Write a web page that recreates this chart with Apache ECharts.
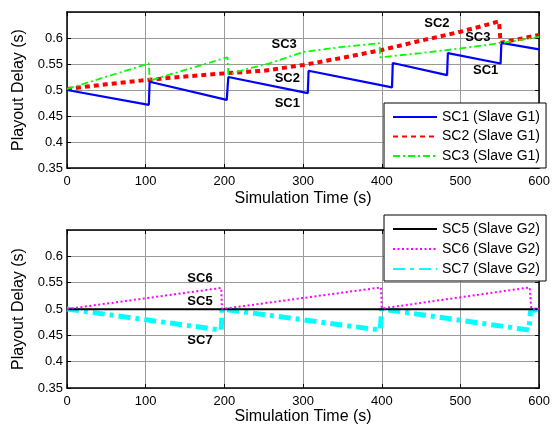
<!DOCTYPE html>
<html><head><meta charset="utf-8">
<script src="https://cdn.jsdelivr.net/npm/echarts@6/dist/echarts.min.js"></script>
<style>html,body{margin:0;padding:0;background:#fff}#c{width:553px;height:433px}</style>
</head><body><div id="c"></div>
<script>
// ---- data ----
const sc1Time  = [0, 104, 105, 203, 205, 306, 307, 413, 414, 483, 484, 551, 552, 600];
const sc1Delay = [0.500, 0.4715, 0.5158, 0.481, 0.525, 0.494, 0.537, 0.505, 0.552, 0.5285, 0.571, 0.551, 0.5905, 0.578];

const sc2Time  = [0, 50, 100, 150, 200, 250, 300, 350, 400, 450, 500, 530, 549, 551, 575, 600];
const sc2Delay = [0.502, 0.511, 0.519, 0.526, 0.532, 0.537, 0.548, 0.562, 0.577, 0.595, 0.612, 0.624, 0.632, 0.591, 0.598, 0.606];

const sc3Time  = [0, 104, 105, 204, 205, 230, 255, 300, 350, 397, 398, 450, 500, 550, 600];
const sc3Delay = [0.502, 0.551, 0.518, 0.563, 0.530, 0.541, 0.550, 0.573, 0.583, 0.590, 0.563, 0.571, 0.580, 0.590, 0.602];

const sc5Time  = [0, 600];
const sc5Delay = [0.4995, 0.4995];

const sc6Time  = [0, 196, 197, 399, 400, 588, 590, 600];
const sc6Delay = [0.500, 0.540, 0.500, 0.541, 0.501, 0.541, 0.500, 0.500];

const sc7Time  = [0, 196, 197, 398, 400, 587, 589, 600];
const sc7Delay = [0.500, 0.460, 0.500, 0.460, 0.500, 0.460, 0.496, 0.500];

const topLabelText  = ['SC3', 'SC2', 'SC1', 'SC2', 'SC3', 'SC1'];
const topLabelTime  = [276, 280, 280, 470, 522, 532];
const topLabelDelay = [0.5885, 0.523, 0.475, 0.6288, 0.602, 0.5385];

const bottomLabelText  = ['SC6', 'SC5', 'SC7'];
const bottomLabelTime  = [169, 169, 169];
const bottomLabelDelay = [0.559, 0.5152, 0.441];

const xTicks = [0, 100, 200, 300, 400, 500, 600];
const yTicks = [0.35, 0.4, 0.45, 0.5, 0.55, 0.6];

const topNames = ['SC1 (Slave G1)', 'SC2 (Slave G1)', 'SC3 (Slave G1)'];
const bottomNames = ['SC5 (Slave G2)', 'SC6 (Slave G2)', 'SC7 (Slave G2)'];
const xTitle = 'Simulation Time (s)';
const yTitle = 'Playout Delay (s)';

// ---- chart ----
const FONT = 'Liberation Sans, Arial, sans-serif';
const zip = (a, b) => a.map((t, i) => [t, b[i]]);
const X_MIN = xTicks[0], X_MAX = xTicks[xTicks.length - 1], X_STEP = xTicks[1] - xTicks[0];
const Y_MIN = yTicks[0], Y_MAX = 0.65, Y_STEP = 0.05;

function mainX(g, gap) {
  return {
    type: 'value', gridIndex: g, min: X_MIN, max: X_MAX, interval: X_STEP,
    name: xTitle, nameLocation: 'middle', nameGap: gap,
    nameTextStyle: { fontSize: 16, color: '#000', fontFamily: FONT },
    axisLine: { show: true, onZero: false, lineStyle: { color: '#000', width: 1.5 } },
    axisTick: { show: true, inside: true, length: 4, lineStyle: { color: '#000' } },
    axisLabel: { color: '#000', fontSize: 13, fontFamily: FONT, margin: 7 },
    splitLine: { show: true, lineStyle: { color: '#9a9a9a', width: 1 } }
  };
}
function boxX(g) {
  return {
    type: 'value', gridIndex: g, position: 'top', min: X_MIN, max: X_MAX, interval: X_STEP,
    axisLine: { show: true, onZero: false, lineStyle: { color: '#000', width: 1.5 } },
    axisTick: { show: true, inside: true, length: 4, lineStyle: { color: '#000' } },
    axisLabel: { show: false }, splitLine: { show: false }
  };
}
function mainY(g) {
  return {
    type: 'value', gridIndex: g, min: Y_MIN, max: Y_MAX, interval: Y_STEP,
    name: yTitle, nameLocation: 'middle', nameGap: 39, nameRotate: 90,
    nameTextStyle: { fontSize: 16, color: '#000', fontFamily: FONT },
    axisLine: { show: true, onZero: false, lineStyle: { color: '#000', width: 1.5 } },
    axisTick: { show: true, inside: true, length: 4, lineStyle: { color: '#000' } },
    axisLabel: { color: '#000', fontSize: 13, fontFamily: FONT, margin: 4, showMaxLabel: false },
    splitLine: { show: true, lineStyle: { color: '#9a9a9a', width: 1 } }
  };
}
function boxY(g) {
  return {
    type: 'value', gridIndex: g, position: 'right', min: Y_MIN, max: Y_MAX, interval: Y_STEP,
    axisLine: { show: true, onZero: false, lineStyle: { color: '#000', width: 1.5 } },
    axisTick: { show: true, inside: true, length: 4, lineStyle: { color: '#000' } },
    axisLabel: { show: false }, splitLine: { show: false }
  };
}
function lineSeries(name, g, t, v, color, width, dash, z) {
  return {
    name, type: 'line', xAxisIndex: g, yAxisIndex: g, data: zip(t, v),
    symbol: 'none', showSymbol: false, smooth: false, z: z || 2,
    lineStyle: { color, width, type: dash, cap: 'butt' },
    itemStyle: { color, opacity: 0 }
  };
}
function labelSeries(g, texts, t, v) {
  return {
    type: 'scatter', xAxisIndex: g, yAxisIndex: g, silent: true, z: 5,
    symbol: 'circle', symbolSize: 1, itemStyle: { color: '#ffffff', opacity: 1 },
    data: texts.map((s, i) => [t[i], v[i], s]),
    label: { show: true, position: 'inside', formatter: p => p.data[2], opacity: 1,
      color: '#000000', textBorderWidth: 0, textBorderColor: 'transparent',
      fontWeight: 'bold', fontSize: 13, fontFamily: FONT }
  };
}
function legend(names, top, gap) {
  return {
    orient: 'vertical', left: 384, top, data: names,
    padding: [7, 6, 5, 8], itemGap: gap, itemWidth: 44, itemHeight: 14,
    backgroundColor: '#fff', borderColor: '#000', borderWidth: 1, borderRadius: 0,
    itemStyle: { opacity: 0 },
    textStyle: { fontSize: 14, color: '#000', fontFamily: FONT },
    selectedMode: false
  };
}

const option = {
  animation: false,
  backgroundColor: '#fff',
  grid: [
    { left: 67, top: 12, width: 479, height: 156 },
    { left: 67, top: 230, width: 479, height: 158 }
  ],
  xAxis: [mainX(0, 23), mainX(1, 21), boxX(0), boxX(1)],
  yAxis: [mainY(0), mainY(1), boxY(0), boxY(1)],
  legend: [legend(topNames, 103, 5.5), legend(bottomNames, 215, 6)],
  series: [
    lineSeries(topNames[0], 0, sc1Time, sc1Delay, '#0000ff', 2.2, 'solid', 3),
    lineSeries(topNames[1], 0, sc2Time, sc2Delay, '#ff0000', 4, [5, 4], 2),
    lineSeries(topNames[2], 0, sc3Time, sc3Delay, '#00ff00', 1.8, [7, 3, 2, 3], 4),
    lineSeries(bottomNames[0], 1, sc5Time, sc5Delay, '#000000', 2, 'solid', 3),
    lineSeries(bottomNames[1], 1, sc6Time, sc6Delay, '#ff00ff', 2, [2, 2.5], 4),
    lineSeries(bottomNames[2], 1, sc7Time, sc7Delay, '#00ffff', 5, [12, 5, 4, 5], 2),
    labelSeries(0, topLabelText, topLabelTime, topLabelDelay),
    labelSeries(1, bottomLabelText, bottomLabelTime, bottomLabelDelay)
  ]
};
const chart = echarts.init(document.getElementById('c'), null, { renderer: 'canvas' });
chart.setOption(option);
</script>
</body></html>
